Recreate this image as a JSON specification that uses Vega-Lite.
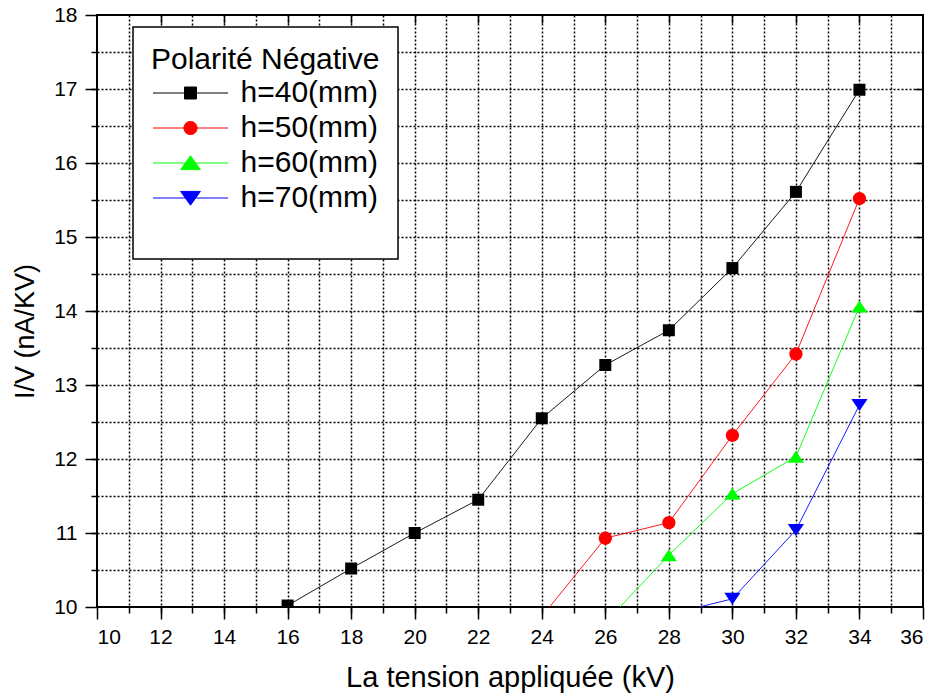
{
  "$schema": "https://vega.github.io/schema/vega-lite/v6.json",
  "width": 826,
  "height": 592,
  "autosize": {"type": "none"},
  "padding": {"left": 97, "top": 15, "right": 14, "bottom": 90},
  "config": {
    "font": "Liberation Sans",
    "view": {"stroke": "#000000", "strokeWidth": 2},
    "axis": {
      "domain": false,
      "grid": false,
      "tickColor": "#000000",
      "tickWidth": 1.5,
      "labelColor": "#000000",
      "titleColor": "#000000",
      "labelFont": "Liberation Sans",
      "titleFont": "Liberation Sans",
      "titleFontWeight": "normal",
      "gridColor": "#000000",
      "gridOpacity": 1,
      "gridDash": [2, 2],
      "gridWidth": 1.5
    }
  },
  "data": {
    "values": [
      {"series": "h=40(mm)", "V": 16, "IV": 10.02},
      {"series": "h=40(mm)", "V": 18, "IV": 10.52},
      {"series": "h=40(mm)", "V": 20, "IV": 11.0},
      {"series": "h=40(mm)", "V": 22, "IV": 11.45},
      {"series": "h=40(mm)", "V": 24, "IV": 12.55},
      {"series": "h=40(mm)", "V": 26, "IV": 13.27},
      {"series": "h=40(mm)", "V": 28, "IV": 13.74},
      {"series": "h=40(mm)", "V": 30, "IV": 14.58},
      {"series": "h=40(mm)", "V": 32, "IV": 15.61},
      {"series": "h=40(mm)", "V": 34, "IV": 16.99},
      {"series": "h=50(mm)", "V": 24, "IV": 9.87},
      {"series": "h=50(mm)", "V": 26, "IV": 10.93},
      {"series": "h=50(mm)", "V": 28, "IV": 11.14},
      {"series": "h=50(mm)", "V": 30, "IV": 12.32},
      {"series": "h=50(mm)", "V": 32, "IV": 13.42},
      {"series": "h=50(mm)", "V": 34, "IV": 15.52},
      {"series": "h=60(mm)", "V": 26, "IV": 9.79},
      {"series": "h=60(mm)", "V": 28, "IV": 10.7},
      {"series": "h=60(mm)", "V": 30, "IV": 11.53},
      {"series": "h=60(mm)", "V": 32, "IV": 12.03},
      {"series": "h=60(mm)", "V": 34, "IV": 14.06},
      {"series": "h=70(mm)", "V": 28, "IV": 9.9},
      {"series": "h=70(mm)", "V": 30, "IV": 10.11},
      {"series": "h=70(mm)", "V": 32, "IV": 11.04},
      {"series": "h=70(mm)", "V": 34, "IV": 12.73}
    ]
  },
  "resolve": {"axis": {"x": "independent", "y": "independent"}},
  "layer": [
    {
      "mark": {"type": "point", "opacity": 0},
      "encoding": {
        "x": {"field": "V", "type": "quantitative", "scale": {"domain": [10, 36], "nice": false, "zero": false},
          "axis": {"orient": "bottom", "values": [11,12,13,14,15,16,17,18,19,20,21,22,23,24,25,26,27,28,29,30,31,32,33,34,35], "grid": true, "tickSize": 6, "labels": false, "title": null}},
        "y": {"field": "IV", "type": "quantitative", "scale": {"domain": [10, 18], "nice": false, "zero": false},
          "axis": {"orient": "left", "values": [10.5,11,11.5,12,12.5,13,13.5,14,14.5,15,15.5,16,16.5,17,17.5], "grid": true, "tickSize": 6, "labels": false, "title": null}}
      }
    },
    {
      "mark": {"type": "point", "opacity": 0},
      "encoding": {
        "x": {"field": "V", "type": "quantitative", "scale": {"domain": [10, 36], "nice": false, "zero": false},
          "axis": {"orient": "top", "values": [12,14,16,18,20,22,24,26,28,30,32,34], "tickSize": 8, "offset": -8, "labels": false, "title": null}},
        "y": {"field": "IV", "type": "quantitative", "scale": {"domain": [10, 18], "nice": false, "zero": false},
          "axis": {"orient": "right", "values": [11,12,13,14,15,16,17], "tickSize": 8, "offset": -8, "labels": false, "title": null}}
      }
    },
    {
      "mark": {"type": "line", "clip": true, "strokeWidth": 0.9},
      "encoding": {
        "x": {"field": "V", "type": "quantitative", "scale": {"domain": [10, 36], "nice": false, "zero": false},
          "axis": {"orient": "bottom", "values": [10,12,14,16,18,20,22,24,26,28,30,32,34,36], "tickSize": 12, "labelFontSize": 21, "labelPadding": 7, "title": "La tension appliquée (kV)", "titleFontSize": 29, "titlePadding": 16}},
        "y": {"field": "IV", "type": "quantitative", "scale": {"domain": [10, 18], "nice": false, "zero": false},
          "axis": {"orient": "left", "values": [10,11,12,13,14,15,16,17,18], "tickSize": 12, "labelFontSize": 21, "labelPadding": 8, "title": "I/V (nA/KV)", "titleFontSize": 27, "titlePadding": 14, "titleY": 316}},
        "color": {
          "field": "series", "type": "nominal",
          "scale": {"domain": ["h=40(mm)", "h=50(mm)", "h=60(mm)", "h=70(mm)", " "], "range": ["#000000", "#ff0000", "#00ff00", "#0000ff", "#ffffff"]},
          "legend": {
            "orient": "none", "legendX": 36, "legendY": 12,
            "title": "Polarité Négative",
            "titleFont": "Liberation Sans", "titleFontSize": 30, "titleFontWeight": "normal", "titleColor": "#000000", "titleLimit": 400,
            "labelFont": "Liberation Sans", "labelFontSize": 30, "labelColor": "#000000", "labelLimit": 400,
            "padding": 18, "titlePadding": 3, "rowPadding": 5,
            "symbolOffset": 24.5, "labelOffset": 35, "symbolSize": 144, "symbolStrokeWidth": 1,
            "fillColor": "#ffffff", "strokeColor": "#000000",
            "encode": {
              "legend": {"update": {"strokeWidth": {"value": 1.5}}},
              "labels": {"update": {"fontSize": {"signal": "datum.label === ' ' ? 17 : 30"}}},
              "symbols": {"update": {
                "shape": {"signal": "datum.value === 'h=40(mm)' ? 'M-6.25,0H6.25M-1,-1H1V1H-1Z' : datum.value === 'h=50(mm)' ? 'M-6.25,0H6.25M1.1,0A1.1,1.1,0,1,1,-1.1,0A1.1,1.1,0,1,1,1.1,0Z' : datum.value === 'h=60(mm)' ? 'M-6.25,0H6.25M0,-1.2L1.65,1.1L-1.65,1.1Z' : datum.value === 'h=70(mm)' ? 'M-6.25,0H6.25M0,1.2L1.65,-1.1L-1.65,-1.1Z' : 'M0,0'"},
                "fill": {"scale": "color", "field": "value"},
                "stroke": {"scale": "color", "field": "value"},
                "strokeWidth": {"value": 1},
                "opacity": {"value": 1}
              }}
            }
          }
        }
      }
    },
    {
      "mark": {"type": "point", "filled": true, "size": 144, "opacity": 1, "clip": true},
      "encoding": {
        "x": {"field": "V", "type": "quantitative", "scale": {"domain": [10, 36], "nice": false, "zero": false}, "axis": null},
        "y": {"field": "IV", "type": "quantitative", "scale": {"domain": [10, 18], "nice": false, "zero": false}, "axis": null},
        "color": {"field": "series", "type": "nominal", "legend": null},
        "shape": {
          "field": "series", "type": "nominal",
          "scale": {"domain": ["h=40(mm)", "h=50(mm)", "h=60(mm)", "h=70(mm)"], "range": ["M-1,-1H1V1H-1Z", "M1.1,0A1.1,1.1,0,1,1,-1.1,0A1.1,1.1,0,1,1,1.1,0Z", "M0,-1L1.35,1L-1.35,1Z", "M0,1L1.35,-1L-1.35,-1Z"]},
          "legend": null
        }
      }
    }
  ]
}
